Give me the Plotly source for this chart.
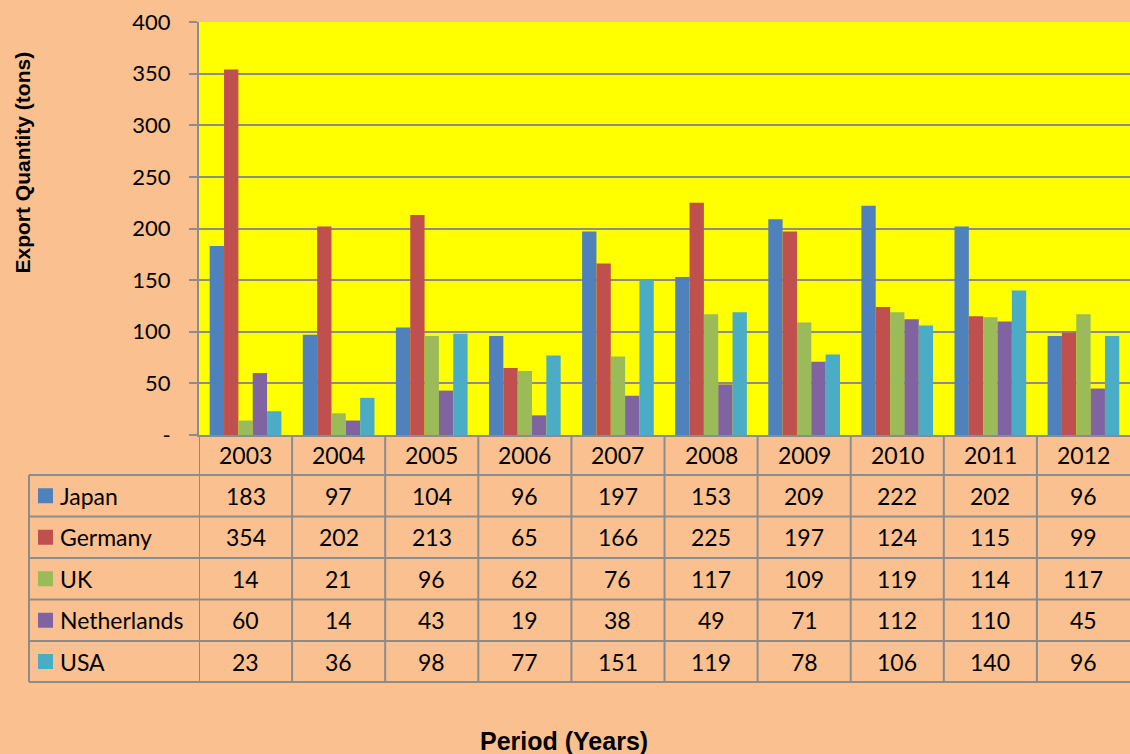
import plotly.graph_objects as go

years = ["2003", "2004", "2005", "2006", "2007", "2008", "2009", "2010", "2011", "2012"]
series_names = ["Japan", "Germany", "UK", "Netherlands", "USA"]
japan = [183, 97, 104, 96, 197, 153, 209, 222, 202, 96]
germany = [354, 202, 213, 65, 166, 225, 197, 124, 115, 99]
uk = [14, 21, 96, 62, 76, 117, 109, 119, 114, 117]
netherlands = [60, 14, 43, 19, 38, 49, 71, 112, 110, 45]
usa = [23, 36, 98, 77, 151, 119, 78, 106, 140, 96]
series_values = [japan, germany, uk, netherlands, usa]
colors = ["#4F81BD", "#C0504D", "#9BBB59", "#8064A2", "#4BACC6"]
y_tickvals = [0, 50, 100, 150, 200, 250, 300, 350, 400]
y_ticktext = ["-", "50", "100", "150", "200", "250", "300", "350", "400"]

W, H = 1130, 754
L, R, T, B = 199, 1130, 22, 435
PW, PH = R - L, B - T
GRAY = "#8C8C8C"
FONT = "Lato"

def px(p):
    return (p - L) / PW

def py(p):
    return (B - p) / PH

fig = go.Figure()
for name, vals, c in zip(series_names, series_values, colors):
    fig.add_trace(go.Bar(x=years, y=vals, name=name, marker=dict(color=c, line=dict(width=0))))

shapes = []
annotations = []

# table geometry (pixels)
row_bounds = [435, 475, 516.5, 558, 599.5, 641, 682]
table_left = 29

# horizontal lines
for yb in row_bounds[1:]:
    shapes.append(dict(type="line", xref="paper", yref="paper", x0=px(table_left), x1=px(R + 5),
                       y0=py(yb), y1=py(yb), line=dict(color=GRAY, width=2)))
# left border of table
shapes.append(dict(type="line", xref="paper", yref="paper", x0=px(table_left), x1=px(table_left),
                   y0=py(row_bounds[1]), y1=py(row_bounds[-1]), line=dict(color=GRAY, width=2)))
# vertical boundaries between categories (category index coordinates)
for j in range(len(years)):
    xb = j - 0.5
    shapes.append(dict(type="line", xref="x", yref="paper", x0=xb, x1=xb,
                       y0=py(row_bounds[0]), y1=py(row_bounds[-1]), line=dict(color=GRAY, width=2)))

# header row (years)
hc = (row_bounds[0] + row_bounds[1]) / 2
for j, y in enumerate(years):
    annotations.append(dict(x=j, xref="x", y=py(hc), yref="paper", text=y, showarrow=False,
                            font=dict(family=FONT, size=23, color="black"), xanchor="center", yanchor="middle"))

# data rows
for i, (name, vals, c) in enumerate(zip(series_names, series_values, colors)):
    rc = (row_bounds[i + 1] + row_bounds[i + 2]) / 2
    shapes.append(dict(type="rect", xref="paper", yref="paper", x0=px(38), x1=px(53),
                       y0=py(rc - 7.5), y1=py(rc + 7.5), fillcolor=c, line=dict(width=0)))
    annotations.append(dict(x=px(58), xref="paper", y=py(rc), yref="paper", text=name, showarrow=False,
                            font=dict(family=FONT, size=23, color="black"), xanchor="left", yanchor="middle"))
    for j, v in enumerate(vals):
        annotations.append(dict(x=j, xref="x", y=py(rc), yref="paper", text=str(v), showarrow=False,
                                font=dict(family=FONT, size=23, color="black"), xanchor="center", yanchor="middle"))

# axis titles
annotations.append(dict(x=px(22), xref="paper", y=py(162.5), yref="paper", text="<b>Export Quantity (tons)</b>",
                        textangle=-90, showarrow=False, font=dict(family="Liberation Sans", size=21, color="black"),
                        xanchor="center", yanchor="middle"))
annotations.append(dict(x=px(564), xref="paper", y=py(741), yref="paper", text="<b>Period (Years)</b>",
                        showarrow=False, font=dict(family="Liberation Sans", size=25, color="black"),
                        xanchor="center", yanchor="middle"))

fig.update_layout(
    width=W, height=H,
    margin=dict(l=L, r=W - R, t=T, b=H - B, pad=0),
    paper_bgcolor="#FAC090",
    plot_bgcolor="#FFFF00",
    barmode="group",
    bargap=0.23,
    bargroupgap=0,
    showlegend=False,
    shapes=shapes,
    annotations=annotations,
    xaxis=dict(type="category", range=[-0.5, 9.5], showticklabels=False, showgrid=False,
               showline=True, linecolor=GRAY, linewidth=2, ticks="", zeroline=False),
    yaxis=dict(range=[0, 400], tickvals=y_tickvals, ticktext=y_ticktext, showgrid=True,
               gridcolor=GRAY, gridwidth=1.5, showline=True, linecolor=GRAY, linewidth=2,
               ticks="outside", ticklen=8, tickcolor=GRAY, tickwidth=2, zeroline=False,
               ticklabelstandoff=14, tickfont=dict(family=FONT, size=22, color="black")),
)

fig.write_html("out.html", config={"displayModeBar": False},
               post_script="document.body.style.margin='0px';document.body.style.overflow='hidden';")
